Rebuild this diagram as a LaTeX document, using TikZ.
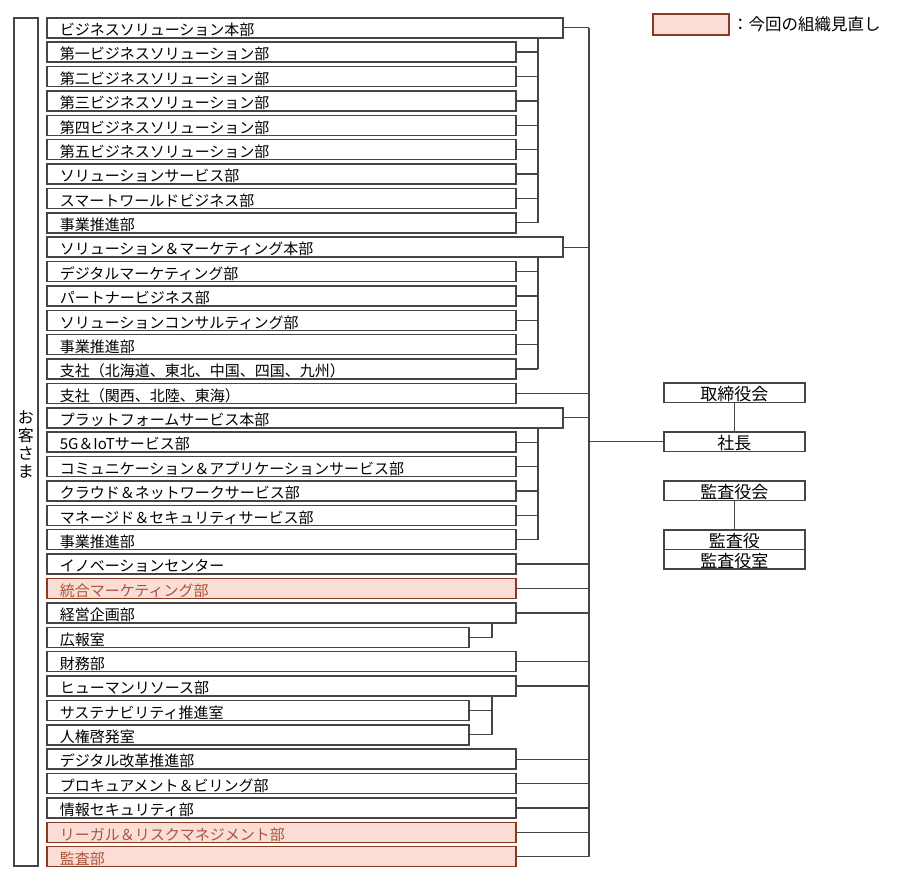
\documentclass[tikz,border=0pt]{standalone}
\usepackage{fontspec}
\setmainfont{Noto Sans CJK JP}
\newfontfamily\jp{Noto Sans CJK JP}
\definecolor{lc}{HTML}{454545}
\definecolor{pinkfill}{HTML}{FADDD5}
\definecolor{pinkdraw}{HTML}{8B3A22}
\definecolor{pinktext}{HTML}{A8553A}
\tikzset{
  box/.style={draw=lc, line width=1.5pt, fill=white, anchor=north west, minimum height=20pt,
    inner ysep=0pt, inner xsep=13pt, align=left, font=\jp\fontsize{15}{16}\selectfont,
    text height=16.5pt, text depth=1pt},
  wide/.style={box, text width=490pt},
  norm/.style={box, text width=443pt},
  narrow/.style={box, text width=396pt},
  pinkbox/.style={fill=pinkfill, draw=pinkdraw, text=pinktext},
  rbox/.style={draw=lc, line width=1.5pt, fill=white, anchor=north west, minimum width=141pt,
    minimum height=19.5pt, inner sep=0pt, font=\jp\fontsize{17}{18}\selectfont,
    text height=17pt, text depth=0.5pt},
  conn/.style={draw=lc, line width=1.3pt},
}
\begin{document}
\begin{tikzpicture}[x=1pt,y=-1pt]
\useasboundingbox (0,0) rectangle (898,878);
% legend
\node[draw=pinkdraw, fill=pinkfill, line width=1.5pt, anchor=north west, minimum width=76pt, minimum height=21pt, inner sep=0pt] (leg) at (652,13) {};
\node[anchor=west, inner sep=0pt, font=\jp\fontsize{16.5}{18}\selectfont] (legt) at (732,24) {：今回の組織見直し};
% customers box
\node[draw=lc, line width=1.5pt, anchor=north west, minimum width=24pt, minimum height=848pt, inner sep=0pt] (cust) at (13,17) {};
\node[align=center, inner sep=0pt, font=\jp\fontsize{16}{18}\selectfont] (custt) at ([yshift=-3pt]cust.center) {お\\客\\さ\\ま};
% rows
\node[wide] (r1) at (46,17.00) {ビジネスソリューション本部};
\node[norm] (r2) at (46,41.38) {第一ビジネスソリューション部};
\node[norm] (r3) at (46,65.76) {第二ビジネスソリューション部};
\node[norm] (r4) at (46,90.14) {第三ビジネスソリューション部};
\node[norm] (r5) at (46,114.52) {第四ビジネスソリューション部};
\node[norm] (r6) at (46,138.90) {第五ビジネスソリューション部};
\node[norm] (r7) at (46,163.28) {ソリューションサービス部};
\node[norm] (r8) at (46,187.66) {スマートワールドビジネス部};
\node[norm] (r9) at (46,212.04) {事業推進部};
\node[wide] (r10) at (46,236.42) {ソリューション＆マーケティング本部};
\node[norm] (r11) at (46,260.80) {デジタルマーケティング部};
\node[norm] (r12) at (46,285.18) {パートナービジネス部};
\node[norm] (r13) at (46,309.56) {ソリューションコンサルティング部};
\node[norm] (r14) at (46,333.94) {事業推進部};
\node[norm] (r15) at (46,358.32) {支社（北海道、東北、中国、四国、九州）};
\node[norm] (r16) at (46,382.70) {支社（関西、北陸、東海）};
\node[wide] (r17) at (46,407.08) {プラットフォームサービス本部};
\node[norm] (r18) at (46,431.46) {5G＆IoTサービス部};
\node[norm] (r19) at (46,455.84) {コミュニケーション＆アプリケーションサービス部};
\node[norm] (r20) at (46,480.22) {クラウド＆ネットワークサービス部};
\node[norm] (r21) at (46,504.60) {マネージド＆セキュリティサービス部};
\node[norm] (r22) at (46,528.98) {事業推進部};
\node[norm] (r23) at (46,553.36) {イノベーションセンター};
\node[norm,pinkbox] (r24) at (46,577.74) {統合マーケティング部};
\node[norm] (r25) at (46,602.12) {経営企画部};
\node[narrow] (r26) at (46,626.50) {広報室};
\node[norm] (r27) at (46,650.88) {財務部};
\node[norm] (r28) at (46,675.26) {ヒューマンリソース部};
\node[narrow] (r29) at (46,699.64) {サステナビリティ推進室};
\node[narrow] (r30) at (46,724.02) {人権啓発室};
\node[norm] (r31) at (46,748.40) {デジタル改革推進部};
\node[norm] (r32) at (46,772.78) {プロキュアメント＆ビリング部};
\node[norm] (r33) at (46,797.16) {情報セキュリティ部};
\node[norm,pinkbox] (r34) at (46,821.54) {リーガル＆リスクマネジメント部};
\node[norm,pinkbox] (r35) at (46,845.92) {監査部};
% right side
\node[rbox] (board) at (663,382) {取締役会};
\node[rbox] (pres) at (663,431) {社長};
\node[rbox] (abd) at (663,480) {監査役会};
\node[rbox] (aud) at (663,529) {監査役};
\node[rbox] (audo) at (663,548.5) {監査役室};
% connector x positions
\coordinate (mx) at (589,0);
\coordinate (bx) at (538,0);
\coordinate (sx) at (492,0);
% main line
\draw[conn] (r1.east -| mx) -- (r35.east -| mx);
\foreach \r in {r1,r10,r16,r17,r23,r24,r25,r27,r28,r31,r32,r33,r34,r35}
  \draw[conn] (\r.east) -- (\r.east -| mx);
% group brackets
\draw[conn] (r1.south -| bx) -- (r9.east -| bx);
\foreach \r in {r2,r3,r4,r5,r6,r7,r8,r9}
  \draw[conn] (\r.east) -- (\r.east -| bx);
\draw[conn] (r10.south -| bx) -- (r15.east -| bx);
\foreach \r in {r11,r12,r13,r14,r15}
  \draw[conn] (\r.east) -- (\r.east -| bx);
\draw[conn] (r17.south -| bx) -- (r22.east -| bx);
\foreach \r in {r18,r19,r20,r21,r22}
  \draw[conn] (\r.east) -- (\r.east -| bx);
\draw[conn] (r25.south -| sx) -- (r26.east -| sx) -- (r26.east);
\draw[conn] (r28.south -| sx) -- (r30.east -| sx) -- (r30.east);
\draw[conn] (r29.east) -- (r29.east -| sx);
% president links
\draw[conn] (pres.west -| mx) -- (pres.west);
\draw[conn] (board.south) -- (pres.north);
\draw[conn] (abd.south) -- (aud.north);
\end{tikzpicture}
\end{document}
